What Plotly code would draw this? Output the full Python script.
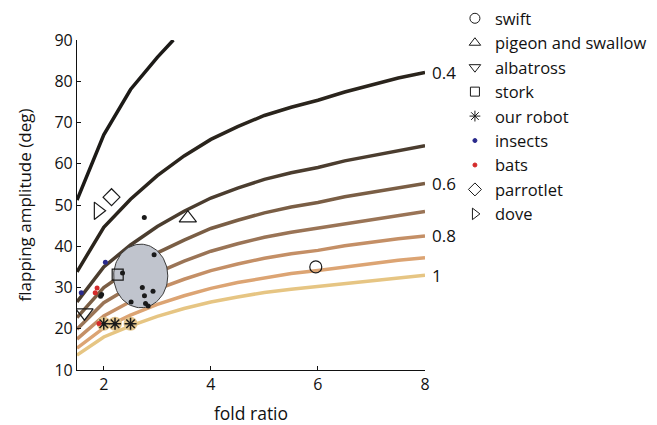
import numpy as np
import plotly.graph_objects as go

# ---- data ----
fold_x = [1.5, 2.0, 2.5, 3.0, 3.5, 4.0, 4.5, 5.0, 5.5, 6.0, 6.5, 7.0, 7.5, 8.0]
steep_x = [1.5, 2.0, 2.5, 3.0, 3.3]
steep_y = [51.2, 67.0, 78.0, 85.8, 90.0]
curve_04 = [33.8, 44.6, 51.4, 57.1, 61.9, 65.9, 69.0, 71.7, 73.7, 75.4, 77.4, 79.1, 80.8, 82.1]
curve_05 = [26.5, 35.0, 40.3, 44.8, 48.5, 51.7, 54.1, 56.2, 57.8, 59.1, 60.7, 62.0, 63.3, 64.4]
curve_06 = [22.7, 30.0, 34.5, 38.4, 41.5, 44.3, 46.3, 48.1, 49.5, 50.6, 52.0, 53.1, 54.3, 55.2]
curve_07 = [19.9, 26.3, 30.2, 33.6, 36.4, 38.8, 40.6, 42.2, 43.4, 44.4, 45.6, 46.6, 47.6, 48.4]
curve_08 = [17.5, 23.1, 26.6, 29.6, 32.0, 34.1, 35.7, 37.1, 38.2, 39.0, 40.1, 41.0, 41.8, 42.5]
curve_09 = [15.3, 20.2, 23.3, 25.9, 28.0, 29.8, 31.2, 32.4, 33.4, 34.1, 35.0, 35.8, 36.6, 37.2]
curve_10 = [13.6, 18.0, 20.7, 23.0, 24.9, 26.5, 27.7, 28.8, 29.6, 30.3, 31.1, 31.8, 32.5, 33.0]
curve_labels = ["0.4", "", "0.6", "", "0.8", "", "1"]

swift = ([5.96], [35.0])
pigeon = ([3.57], [46.8])
albatross = ([1.64], [23.9])
stork = ([2.26], [33.1])
robot = ([2.0, 2.21, 2.5], [21.2, 21.2, 21.2])
insects = ([2.03, 1.58], [36.1, 28.7])
bats = ([1.875, 1.84, 1.91], [29.9, 28.7, 21.3])
parrotlet = ([2.145], [51.9])
dove = ([1.894], [48.6])
other_x = [2.757, 2.94, 2.35, 1.96, 1.94, 2.72, 2.76, 2.92, 2.51, 2.78, 2.83]
other_y = [47.0, 37.95, 33.5, 28.3, 27.9, 30.0, 28.0, 29.1, 26.5, 26.1, 25.5]
ellipse_center = (2.69, 32.8)
ellipse_radius = (0.506, 7.7)

# ---- styles ----
curve_colors = ["#2a241c", "#4b3d2f", "#7a5e45", "#9a7456", "#c48f66", "#dca473", "#e6c583"]
FONT = "Open Sans"

fig = go.Figure()

fig.add_trace(go.Scatter(x=steep_x, y=steep_y, mode="lines",
                         line=dict(color="#1c1a17", width=3.5), showlegend=False, hoverinfo="skip"))
curves = [curve_04, curve_05, curve_06, curve_07, curve_08, curve_09, curve_10]
for ys, col in zip(curves, curve_colors):
    fig.add_trace(go.Scatter(x=fold_x, y=ys, mode="lines",
                             line=dict(color=col, width=3.5), showlegend=False, hoverinfo="skip"))

# ellipse
t = np.linspace(0, 2 * np.pi, 100)
ex = ellipse_center[0] + ellipse_radius[0] * np.cos(t)
ey = ellipse_center[1] + ellipse_radius[1] * np.sin(t)
fig.add_trace(go.Scatter(x=ex, y=ey, mode="lines", fill="toself", fillcolor="#c0c4cd",
                         line=dict(color="#3a3a3a", width=1), showlegend=False, hoverinfo="skip"))

ocol = "#1a1a1a"

def pts(xy, symbol, size, color=ocol, lw=1.2):
    fig.add_trace(go.Scatter(x=xy[0], y=xy[1], mode="markers", showlegend=False,
                             marker=dict(symbol=symbol, size=size, color=color,
                                         line=dict(color=color, width=lw))))

fig.add_trace(go.Scatter(x=other_x, y=other_y, mode="markers", showlegend=False,
                         marker=dict(size=5, color=ocol)))
pts(swift, "circle-open", 12)
pts(pigeon, "triangle-up-open", 15)
pts(albatross, "triangle-down-open", 15)
pts(stork, "square-open", 11)
fig.add_trace(go.Scatter(x=robot[0], y=robot[1], mode="markers", showlegend=False,
                         marker=dict(size=14, color="#e2c48c")))
pts(robot, "asterisk-open", 10, lw=1.5)
pts(insects, "circle", 5, color="#2a2a8c", lw=0)
pts(bats, "circle", 5, color="#d42a2a", lw=0)
pts(parrotlet, "diamond-open", 13)
pts(dove, "triangle-right-open", 15)

# legend-only entries
legend_items = [
    ("swift", "circle-open", 10, ocol),
    ("pigeon and swallow", "triangle-up-open", 10, ocol),
    ("albatross", "triangle-down-open", 10, ocol),
    ("stork", "square-open", 9, ocol),
    ("our robot", "asterisk-open", 9, ocol),
    ("insects", "circle", 4, "#2a2a8c"),
    ("bats", "circle", 4, "#d42a2a"),
    ("parrotlet", "diamond-open", 10, ocol),
    ("dove", "triangle-right-open", 10, ocol),
]
for name, sym, sz, col in legend_items:
    fig.add_trace(go.Scatter(x=[None], y=[None], mode="markers", name=name,
                             marker=dict(symbol=sym, size=sz, color=col,
                                         line=dict(color=col, width=1))))

for lab, ys in zip(curve_labels, curves):
    if lab:
        fig.add_annotation(x=8, y=ys[-1], text=lab, showarrow=False, xanchor="left",
                           xshift=5, font=dict(family=FONT, size=17, color="#111"))

fig.update_layout(
    width=657, height=425,
    margin=dict(l=77, r=232, t=40, b=55, autoexpand=False),
    paper_bgcolor="white", plot_bgcolor="white",
    font=dict(family=FONT, size=16, color="#111"),
    legend=dict(x=1.086, y=0.418, xanchor="left", yanchor="bottom",
                font=dict(family=FONT, size=16.5, color="#111"),
                bgcolor="rgba(0,0,0,0)", tracegroupgap=0),
    showlegend=True,
)
fig.update_xaxes(range=[1.5, 8], tickvals=[2, 4, 6, 8], ticks="inside", ticklen=4,
                 tickcolor="#111", showline=True, linecolor="#111", linewidth=1.2,
                 showgrid=False, zeroline=False,
                 title=dict(text="fold ratio", font=dict(size=17.5), standoff=18))
fig.update_yaxes(range=[10, 90], dtick=10, ticks="inside", ticklen=4,
                 tickcolor="#111", showline=True, linecolor="#111", linewidth=1.2,
                 showgrid=False, zeroline=False,
                 title=dict(text="flapping amplitude (deg)", font=dict(size=17), standoff=18))

fig.write_html("out.html")
